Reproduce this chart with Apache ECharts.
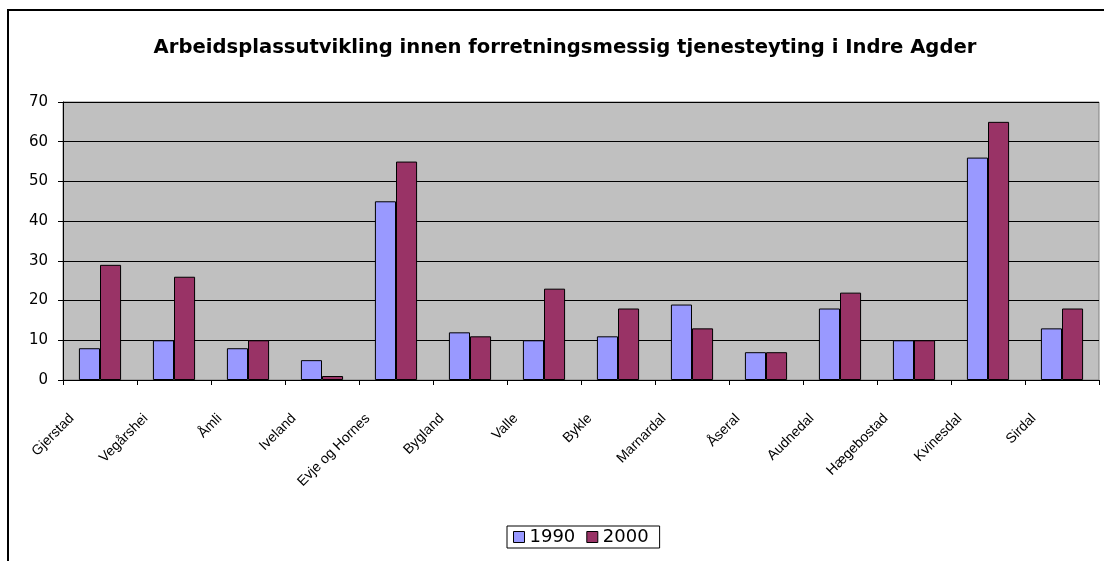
<!DOCTYPE html>
<html>
<head>
<meta charset="utf-8">
<script src="https://cdn.jsdelivr.net/npm/echarts@6/dist/echarts.min.js"></script>
<style>html,body{margin:0;padding:0;background:#fff}#c{width:1104px;height:561px}</style>
</head>
<body>
<div id="c"></div>
<script>
var categories = ['Gjerstad','Vegårshei','Åmli','Iveland','Evje og Hornes','Bygland','Valle','Bykle','Marnardal','Åseral','Audnedal','Hægebostad','Kvinesdal','Sirdal'];
var values1990 = [8,10,8,5,45,12,10,11,19,7,18,10,56,13];
var values2000 = [29,26,10,1,55,11,23,18,13,7,22,10,65,18];
var yTicks = [0,10,20,30,40,50,60,70];

var chart = echarts.init(document.getElementById('c'));
var F = '"DejaVu Sans", Arial, sans-serif';
var FN = '"Liberation Sans Narrow", "Liberation Sans", Arial, sans-serif';
chart.setOption({
  animation: false,
  backgroundColor: '#fff',
  title: {
    text: 'Arbeidsplassutvikling innen forretningsmessig tjenesteyting i Indre Agder',
    left: 560, top: 33, textAlign: 'center',
    textStyle: {fontFamily: F, fontSize: 19.6, fontWeight: 'bold', color: '#000'}
  },
  graphic: [{
    type: 'rect', shape: {x: 8, y: 10, width: 1300, height: 700},
    style: {fill: 'none', stroke: '#000', lineWidth: 2}, z: 100
  }],
  legend: {
    data: ['1990','2000'], left: 507, top: 526,
    icon: 'rect', itemWidth: 11, itemHeight: 11, itemGap: 11,
    borderColor: '#000', borderWidth: 1, padding: [2, 11, 2, 6],
    textStyle: {fontFamily: F, fontSize: 18, color: '#000'},
    itemStyle: {borderColor: '#000', borderWidth: 1}
  },
  grid: {left: 63, right: 5, top: 102, bottom: 181, show: true, backgroundColor: '#c0c0c0', borderColor: '#808080', borderWidth: 1},
  xAxis: {
    type: 'category', data: categories, boundaryGap: true,
    axisLine: {lineStyle: {color: '#000', width: 1}},
    axisTick: {show: true, alignWithLabel: false, length: 5, lineStyle: {color: '#000'}},
    axisLabel: {rotate: 45, interval: 0, fontFamily: FN, fontSize: 14, color: '#000', margin: 8, padding: [0, 40, 0, 0]}
  },
  yAxis: {
    type: 'value', min: 0, max: 70, interval: 10,
    axisLine: {show: true, lineStyle: {color: '#000'}},
    axisTick: {show: true, length: 5, lineStyle: {color: '#000'}},
    axisLabel: {fontFamily: F, fontSize: 15, color: '#000', margin: 15,
      formatter: function(v){ return yTicks.indexOf(v) >= 0 ? String(v) : ''; }},
    splitLine: {show: true, lineStyle: {color: '#000', width: 1}}
  },
  series: [
    {name: '1990', type: 'bar', data: values1990, barGap: '0%', barCategoryGap: '43%',
     itemStyle: {color: '#9999ff', borderColor: '#000', borderWidth: 1}},
    {name: '2000', type: 'bar', data: values2000, barGap: '0%', barCategoryGap: '43%',
     itemStyle: {color: '#993366', borderColor: '#000', borderWidth: 1}}
  ]
});
</script>
</body>
</html>
